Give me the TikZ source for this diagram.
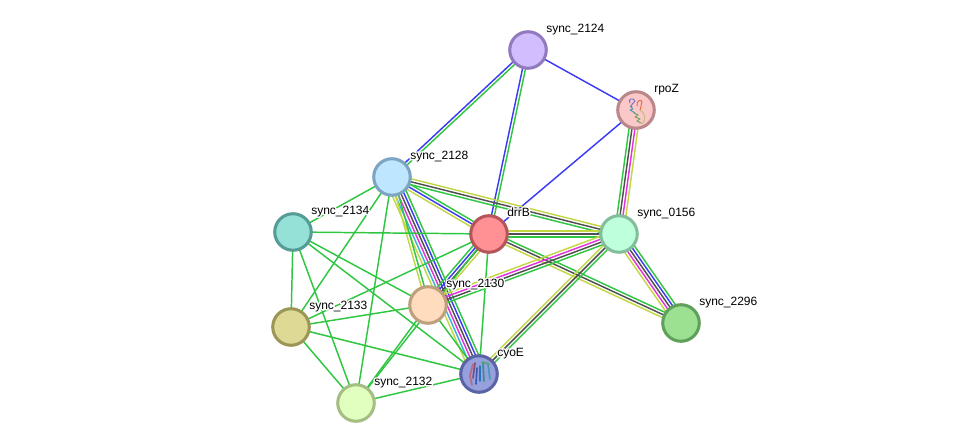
\documentclass[tikz,border=0pt]{standalone}
\usepackage{fontspec}
\setmainfont{Liberation Sans}
\usetikzlibrary{calc,backgrounds}

\definecolor{eg}{RGB}{48,198,66}
\definecolor{eb}{RGB}{60,60,245}
\definecolor{ek}{RGB}{80,80,80}
\definecolor{ey}{RGB}{195,215,70}
\definecolor{em}{RGB}{228,50,220}
\definecolor{ec}{RGB}{55,180,210}

% Label text with a white outline behind the glyphs
\newcommand{\halo}[1]{\rlap{\special{pdf:code q 1 Tr 2.2 w 1 1 1 RG 1 j}#1\special{pdf:code Q}}#1}

% Bundle of parallel lines from #1 to #2; the first colour lies on the left-hand side
\newcommand{\ribbon}[3]{%
  \foreach \c [count=\i] in {#3} {\global\let\nn\i}%
  \foreach \c [count=\i] in {#3} {%
    \pgfmathsetmacro\off{((\nn+1)/2-\i)*2.2}%
    \draw[edge,color=\c] ($(#1.center)!\off pt!90:(#2.center)$) -- ($(#2.center)!\off pt!-90:(#1.center)$);
  }%
}

\tikzset{
  edge/.style={line width=1.1pt},
  ball/.style={circle,minimum size=27.4pt,inner sep=0pt,line width=2.3pt},
  lab/.style={anchor=west,inner sep=0pt,text height=6.6pt,text depth=1.9pt,font=\fontsize{9}{10}\selectfont},
  strand/.style={line width=0.7pt,line cap=round,line join=round}
}

\begin{document}
\begin{tikzpicture}[x=0.75pt,y=-0.75pt]
\useasboundingbox (0,0) rectangle (976,448);

% Proteins
\node[ball,fill={rgb,255:red,209;green,190;blue,255},draw={rgb,255:red,146;green,122;blue,190}] (s2124) at (528,50) {};
\node[ball,fill={rgb,255:red,250;green,200;blue,200},draw={rgb,255:red,186;green,136;blue,138}] (rpoz) at (636,110) {};
\node[ball,fill={rgb,255:red,190;green,230;blue,255},draw={rgb,255:red,125;green,165;blue,195}] (s2128) at (392,177) {};
\node[ball,fill={rgb,255:red,255;green,145;blue,148},draw={rgb,255:red,180;green,85;blue,90}] (drrb) at (489,234) {};
\node[ball,fill={rgb,255:red,190;green,255;blue,220},draw={rgb,255:red,130;green,190;blue,155}] (s0156) at (619,234) {};
\node[ball,fill={rgb,255:red,150;green,225;blue,215},draw={rgb,255:red,85;green,155;blue,150}] (s2134) at (293,232) {};
\node[ball,fill={rgb,255:red,255;green,220;blue,190},draw={rgb,255:red,190;green,160;blue,125}] (s2130) at (428,305) {};
\node[ball,fill={rgb,255:red,222;green,218;blue,150},draw={rgb,255:red,155;green,150;blue,85}] (s2133) at (291,327) {};
\node[ball,fill={rgb,255:red,155;green,225;blue,145},draw={rgb,255:red,95;green,160;blue,90}] (s2296) at (681,323) {};
\node[ball,fill={rgb,255:red,150;green,160;blue,220},draw={rgb,255:red,90;green,100;blue,165}] (cyoe) at (479,374) {};
\node[ball,fill={rgb,255:red,225;green,255;blue,190},draw={rgb,255:red,165;green,190;blue,130}] (s2132) at (356,403) {};

% Interaction evidence lines
\begin{scope}[on background layer]
  \ribbon{s2124}{s2128}{eg,eb}
  \ribbon{s2124}{drrb}{eg,eb}
  \ribbon{s2124}{rpoz}{eb}
  \ribbon{rpoz}{drrb}{eb}
  \ribbon{rpoz}{s0156}{ey,em,ek,eg}
  \ribbon{s2128}{s0156}{ey,ek,eg}
  \ribbon{s2128}{drrb}{eg,eb,ey}
  \ribbon{s2128}{cyoe}{eg,eb,ek,em,ec,ey}
  \ribbon{s2128}{s2130}{eg,ey}
  \ribbon{s2128}{s2134}{eg}
  \ribbon{s2128}{s2133}{eg}
  \ribbon{s2128}{s2132}{eg}
  \ribbon{drrb}{s0156}{ey,ek,eg}
  \ribbon{drrb}{s2296}{eg,ek,ey}
  \ribbon{drrb}{s2130}{ey,ek,eb,eg}
  \ribbon{drrb}{cyoe}{eg}
  \ribbon{drrb}{s2134}{eg}
  \ribbon{drrb}{s2133}{eg}
  \ribbon{drrb}{s2132}{eg}
  \ribbon{s0156}{s2296}{eg,eb,ek,em,ey}
  \ribbon{s2130}{s0156}{ey,em,ek,eg}
  \ribbon{cyoe}{s0156}{ey,ek,eg}
  \ribbon{s2130}{cyoe}{eg}
  \ribbon{s2130}{s2134}{eg}
  \ribbon{s2130}{s2133}{eg}
  \ribbon{s2130}{s2132}{eg}
  \ribbon{s2134}{s2133}{eg}
  \ribbon{s2134}{s2132}{eg}
  \ribbon{s2134}{cyoe}{eg}
  \ribbon{s2133}{s2132}{eg}
  \ribbon{s2133}{cyoe}{eg}
  \ribbon{s2132}{cyoe}{eg}
\end{scope}

% Folded structure inside rpoZ
\begin{scope}[strand]
  \draw[color={rgb,255:red,120;green,110;blue,200}] (630,103) .. controls (627,99) and (634,97) .. (635,101) .. controls (633,104) and (630,105) .. (632,107);
  \draw[color={rgb,255:red,230;green,105;blue,60}] (637,106) .. controls (636,100) and (642,99) .. (642,102) .. controls (640,105) and (642,106) .. (640,110);
  \draw[color={rgb,255:red,80;green,150;blue,165}] (630,106) -- (633,109) -- (630,110) -- (635,113);
  \draw[color={rgb,255:red,110;green,165;blue,90}] (634,113) -- (638,115) -- (635,117) -- (640,119) -- (637,121) -- (641,123);
  \draw[color={rgb,255:red,205;green,185;blue,120}] (640,110) .. controls (646,113) and (646,121) .. (642,124);
\end{scope}

% Transmembrane helices inside cyoE
\begin{scope}[strand,line width=1.2pt]
  \draw[color={rgb,255:red,185;green,105;blue,130}] (473,364) -- (470,376) -- (472,385);
  \draw[color={rgb,255:red,120;green,80;blue,120}] (475,363) -- (473,378);
  \draw[color={rgb,255:red,55;green,90;blue,180}] (477,368) -- (476,384);
  \draw[color={rgb,255:red,45;green,115;blue,190}] (480,366) -- (480,381);
  \draw[color={rgb,255:red,50;green,145;blue,135}] (483,363) -- (484,381);
  \draw[color={rgb,255:red,65;green,155;blue,180}] (488,364) -- (490,379);
  \draw[color={rgb,255:red,80;green,165;blue,115}] (482,362) -- (489,364);
\end{scope}

% Protein names
\node[lab] (t2124) at (546,29) {\halo{sync\_2124}};
\node[lab] (trpoz) at (654,89) {\halo{rpoZ}};
\node[lab] (t2128) at (410,156) {\halo{sync\_2128}};
\node[lab] (tdrrb) at (507,213) {\halo{drrB}};
\node[lab] (t0156) at (637,213) {\halo{sync\_0156}};
\node[lab] (t2134) at (311,211) {\halo{sync\_2134}};
\node[lab] (t2130) at (446,284) {\halo{sync\_2130}};
\node[lab] (t2133) at (309,306) {\halo{sync\_2133}};
\node[lab] (t2296) at (699,302) {\halo{sync\_2296}};
\node[lab] (tcyoe) at (497,353) {\halo{cyoE}};
\node[lab] (t2132) at (374,382) {\halo{sync\_2132}};
\end{tikzpicture}
\end{document}
